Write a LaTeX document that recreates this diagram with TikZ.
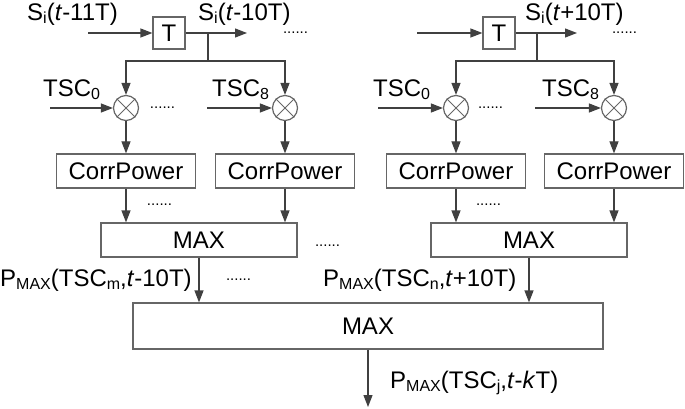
\documentclass[tikz,border=0pt]{standalone}
\usepackage{fontspec}
\setmainfont{Liberation Sans}
\usetikzlibrary{arrows.meta}
\newcommand{\lo}[1]{\raisebox{-3pt}{\fontsize{16}{16}\selectfont #1}}

\begin{document}
\begin{tikzpicture}[
      x=1pt, y=-1pt,
      font=\fontsize{24}{28}\selectfont,
      block/.style={rectangle, draw=black!60, line width=1.2pt, inner sep=0pt, minimum height=34pt},
      delay/.style={block, minimum width=32pt, minimum height=32pt},
      corr/.style={block, minimum width=139pt},
      maxbox/.style={block, minimum width=196pt},
      mult/.style={circle, draw=black!60, line width=1.2pt, minimum size=25pt, inner sep=0pt},
      txt/.style={inner sep=0pt, anchor=base west},
      etc/.style={inner sep=0pt, font=\fontsize{15}{15}\selectfont},
      wire/.style={draw=black!75, line width=1.2pt},
      arrow/.style={wire, -{Triangle[length=12pt,width=9pt]}}
      ]
      \useasboundingbox (0,0) rectangle (685,409);

      % Nodes
      \node[delay] (T1) at (169,33) {T};
      \node[delay] (T2) at (499,33) {T};
      \coordinate (in1) at (88,33);
      \coordinate (in2) at (417,33);
      \coordinate (out1) at (247,33);
      \coordinate (out2) at (577,33);
      \coordinate (br1) at (208,33);
      \coordinate (br2) at (537,33);
      \coordinate (sp1) at (208,61);
      \coordinate (sp2) at (537,61);

      \node[mult] (m1) at (126,108) {};
      \node[mult] (m2) at (285,108) {};
      \node[mult] (m3) at (456,108) {};
      \node[mult] (m4) at (614,108) {};
      \coordinate (tsc1) at (50,108);
      \coordinate (tsc2) at (207,108);
      \coordinate (tsc3) at (378,108);
      \coordinate (tsc4) at (535,108);

      \node[corr] (c1) at (126,171) {CorrPower};
      \node[corr] (c2) at (285,171) {CorrPower};
      \node[corr] (c3) at (456,171) {CorrPower};
      \node[corr] (c4) at (614,171) {CorrPower};

      \node[maxbox] (mx1) at (199,240) {MAX};
      \node[maxbox] (mx2) at (529,240) {MAX};
      \node[block, minimum width=470pt, minimum height=46pt] (big) at (368,326) {MAX};
      \coordinate (res) at (368,407);

      % Labels
      \node[txt] (si1) at (27,21) {S\lo{i}(\textit{t}-11T)};
      \node[txt] (si2) at (198,21) {S\lo{i}(\textit{t}-10T)};
      \node[txt] (si3) at (525,21) {S\lo{i}(\textit{t}+10T)};
      \node[txt] (ts1) at (43,97) {TSC\lo{0}};
      \node[txt] (ts2) at (212,97) {TSC\lo{8}};
      \node[txt] (ts3) at (373,97) {TSC\lo{0}};
      \node[txt] (ts4) at (542,97) {TSC\lo{8}};
      \node[txt] (pm) at (0,286) {P\lo{MAX}(TSC\lo{m},\textit{t}-10T)};
      \node[txt] (pn) at (323,286) {P\lo{MAX}(TSC\lo{n},\textit{t}+10T)};
      \node[txt] (pj) at (390,388) {P\lo{MAX}(TSC\lo{j},\textit{t}-\textit{k}T)};

      \node[etc] (d1) at (295.5,33) {......};
      \node[etc] (d2) at (624.5,33) {......};
      \node[etc] (d3) at (162.5,108) {......};
      \node[etc] (d4) at (490.5,108) {......};
      \node[etc] (d5) at (159.5,205) {......};
      \node[etc] (d6) at (488.5,205) {......};
      \node[etc] (d7) at (327.5,246) {......};
      \node[etc] (d8) at (238.5,280) {......};

      % Arrows
      \draw[arrow] (in1) -- (T1);
      \draw[arrow] (in2) -- (T2);
      \draw[arrow] (T1) -- (out1);
      \draw[arrow] (T2) -- (out2);
      \draw[wire] (br1) -- (sp1);
      \draw[wire] (br2) -- (sp2);
      \draw[arrow] (sp1) -| (m1);
      \draw[arrow] (sp1) -| (m2);
      \draw[arrow] (sp2) -| (m3);
      \draw[arrow] (sp2) -| (m4);
      \draw[arrow] (tsc1) -- (m1);
      \draw[arrow] (tsc2) -- (m2);
      \draw[arrow] (tsc3) -- (m3);
      \draw[arrow] (tsc4) -- (m4);
      \foreach \m in {m1,m2,m3,m4}
        \draw[draw=black!60, line width=1pt] (\m.north east) -- (\m.south west) (\m.north west) -- (\m.south east);
      \draw[arrow] (m1) -- (c1);
      \draw[arrow] (m2) -- (c2);
      \draw[arrow] (m3) -- (c3);
      \draw[arrow] (m4) -- (c4);
      \draw[arrow] (c1) -- (c1 |- mx1.north);
      \draw[arrow] (c2) -- (c2 |- mx1.north);
      \draw[arrow] (c3) -- (c3 |- mx2.north);
      \draw[arrow] (c4) -- (c4 |- mx2.north);
      \draw[arrow] (mx1) -- (mx1 |- big.north);
      \draw[arrow] (mx2) -- (mx2 |- big.north);
      \draw[arrow] (big) -- (res);

    \end{tikzpicture}
\end{document}
